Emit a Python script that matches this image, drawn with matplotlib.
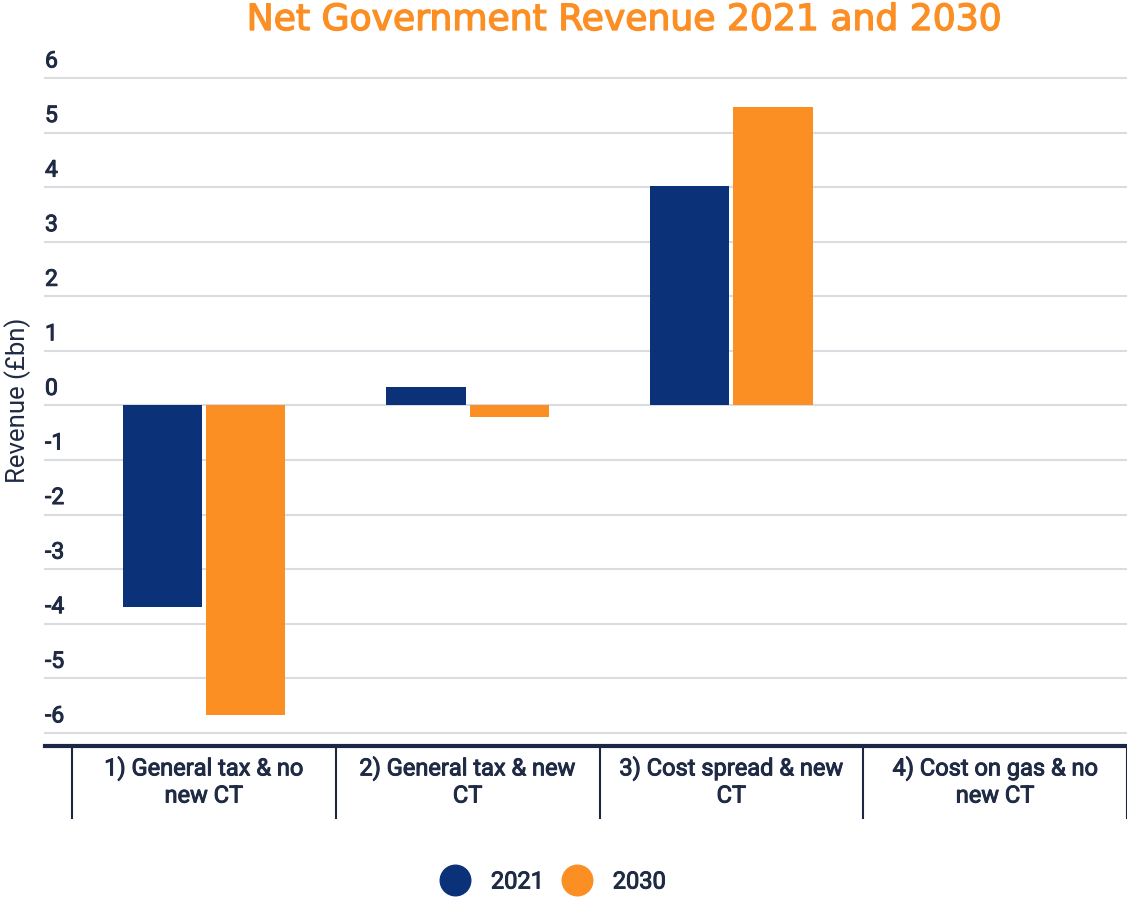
import matplotlib.pyplot as plt
from matplotlib.lines import Line2D
import matplotlib.transforms as mtransforms
import matplotlib.patheffects as pe

# data
categories = ['1) General tax & no\nnew CT', '2) General tax & new\nCT',
              '3) Cost spread & new\nCT', '4) Cost on gas & no\nnew CT']
rev_2021 = [-3.7, 0.33, 4.02, 0.0]
rev_2030 = [-5.68, -0.22, 5.47, 0.0]
yticks = [6, 5, 4, 3, 2, 1, 0, -1, -2, -3, -4, -5, -6]

navy = '#0b3278'
orange = '#fb8f24'
textcol = '#1f2a44'
fat = [pe.withStroke(linewidth=0.7, foreground=textcol)]

plt.rcParams['font.family'] = ['Roboto', 'DejaVu Sans']

fig = plt.figure(figsize=(11.27, 9.01), dpi=100)
ax = fig.add_axes([45 / 1127, 1 - 746 / 901, 1 - 45 / 1127, (746 - 78) / 901])

n = len(categories)
x = [i + 0.5 for i in range(n)]
w = 0.30
off = 0.158
ax.bar([v - off for v in x], rev_2021, width=w, color=navy, zorder=3)
ax.bar([v + off for v in x], rev_2030, width=w, color=orange, zorder=3)

ax.set_xlim(-27 / 263.5, n)
ax.set_ylim(-6.24, 6.0)

# gridlines + labels sitting above them
for t in yticks:
    ax.axhline(t, color='#d9dce1', lw=1.5, zorder=1, clip_on=False)
    ax.annotate(str(t), xy=(0, t), xycoords=('axes fraction', 'data'),
                xytext=(0, 4), textcoords='offset points',
                ha='left', va='bottom', fontsize=16.5, color=textcol, path_effects=fat)

ax.set_xticks([])
ax.set_yticks([])
for s in ['top', 'right', 'left']:
    ax.spines[s].set_visible(False)
ax.spines['bottom'].set_color('#1c2843')
ax.spines['bottom'].set_linewidth(3)

# category separators below the axis
trans = mtransforms.blended_transform_factory(ax.transData, ax.transAxes)
for b in range(n + 1):
    ax.plot([b, b], [0, -72 / 668], transform=trans, color='#1c2843', lw=1.5, clip_on=False)
for i, c in enumerate(categories):
    ax.text(i + 0.5, -10 / 668, c, transform=trans, ha='center', va='top',
            fontsize=17, color=textcol, linespacing=1.2, path_effects=fat)

fig.text(18 / 1127, 1 - 400 / 901, 'Revenue (£bn)', rotation=90, ha='center', va='center',
         fontsize=18.5, color=textcol)

fig.text(624 / 1127, 1 - 20 / 901, 'Net Government Revenue 2021 and 2030', ha='center', va='center',
         fontsize=26, color=orange, family=['DejaVu Sans'],
         path_effects=[pe.withStroke(linewidth=1.0, foreground=orange)])

handles = [Line2D([], [], marker='o', ls='', markersize=22, color=navy),
           Line2D([], [], marker='o', ls='', markersize=22, color=orange)]
leg = fig.legend(handles, ['2021', '2030'], loc='center', bbox_to_anchor=(549 / 1127, 1 - 882 / 901),
                 ncol=2, frameon=False, handletextpad=0.5, columnspacing=0.4,
                 labelcolor=textcol, prop={'size': 17})
for txt in leg.get_texts():
    txt.set_path_effects(fat)

fig.savefig('out.png', dpi=100)
